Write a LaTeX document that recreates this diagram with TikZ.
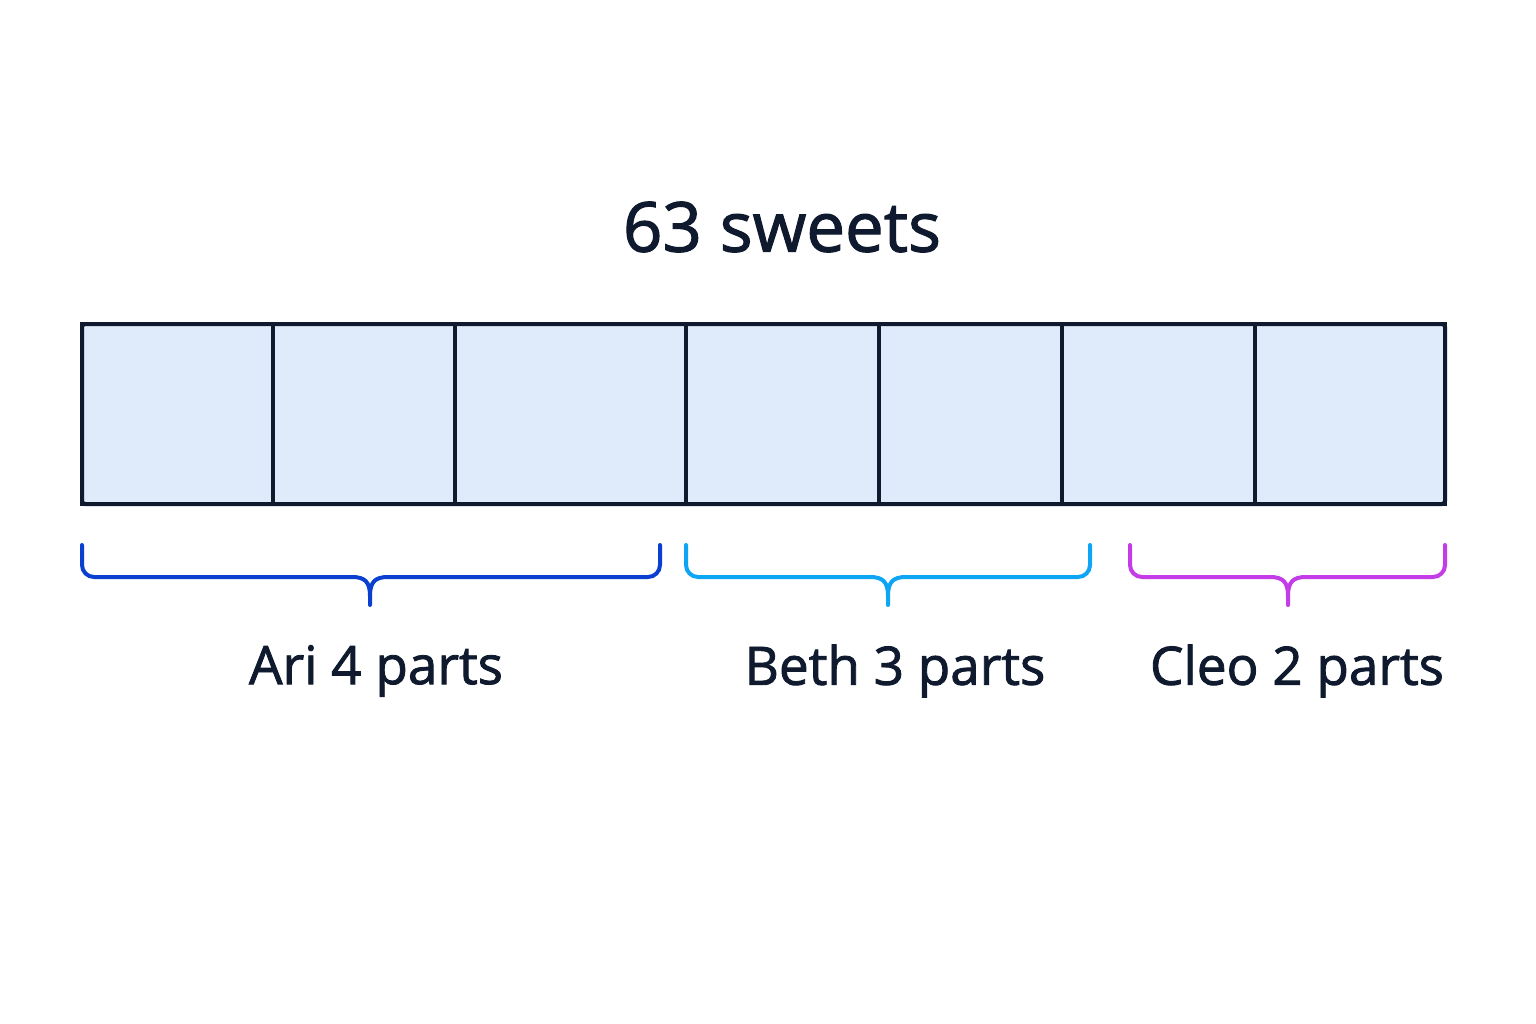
\documentclass[tikz,border=0pt]{standalone}
\usepackage{fontspec}
\setmainfont{Open Sans}[BoldFont={Open Sans},BoldFeatures={FakeBold=1.6}]
\definecolor{ink}{HTML}{0F1A2E}
\definecolor{cellfill}{HTML}{DFEBFA}
\definecolor{ari}{HTML}{0A3FD0}
\definecolor{beth}{HTML}{0EA5F5}
\definecolor{cleo}{HTML}{C33CE8}
\begin{document}
\begin{tikzpicture}[x=1pt,y=-1pt,
  cell/.style={draw=ink,line width=4pt,fill=cellfill},
  brace/.style={line width=4pt,line cap=round,rounded corners=12pt},
  lbl/.style={text=ink,font=\fontsize{53}{60}\selectfont\bfseries,anchor=center}]
\useasboundingbox (0,0) rectangle (1536,1024);
\fill[white] (0,0) rectangle (1536,1024);
\foreach \a/\b in {82/273,273/455,455/686,686/879,879/1062,1062/1255,1255/1445}
  \draw[cell] (\a,324) rectangle (\b,504);
\draw[ink,line width=4pt,rounded corners=3pt] (82,324) rectangle (1445,504);
\node[lbl,font=\fontsize{69}{76}\selectfont\bfseries] (title) at (782,227) {63 sweets};
\newcommand\mybrace[4]{%
 \draw[brace,#4] (#1,545) -- (#1,577) -- (#3-30,577) [sharp corners] .. controls (#3-5,577) and (#3,582) .. (#3,596) -- (#3,605);
 \draw[brace,#4] (#2,545) -- (#2,577) -- (#3+30,577) [sharp corners] .. controls (#3+5,577) and (#3,582) .. (#3,596);}
\mybrace{82}{660}{370}{ari}
\mybrace{686}{1090}{888}{beth}
\mybrace{1130}{1445}{1288}{cleo}
\node[lbl] (a) at (376,671) {Ari 4 parts};
\node[lbl] (b) at (895,671) {Beth 3 parts};
\node[lbl] (c) at (1297,671) {Cleo 2 parts};
\end{tikzpicture}
\end{document}
